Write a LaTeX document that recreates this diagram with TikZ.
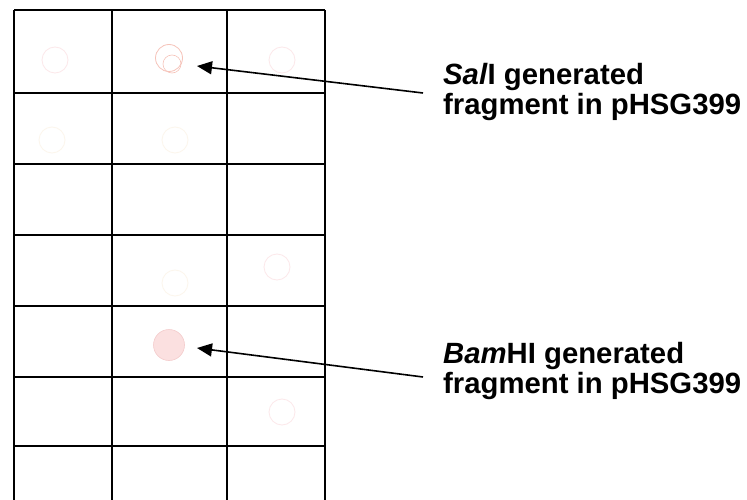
\documentclass[tikz,border=0pt]{standalone}
\usepackage{fontspec}
\setmainfont{Liberation Sans}
\usetikzlibrary{arrows.meta}
\definecolor{faintpink}{RGB}{252,232,234}
\definecolor{paleyellow}{RGB}{252,246,236}
\definecolor{salpink}{RGB}{246,195,185}
\definecolor{bamfill}{RGB}{251,224,224}
\definecolor{bamedge}{RGB}{244,204,204}
\tikzset{
  gridline/.style={line width=1.8pt, black},
  pointer/.style={line width=1.6pt, -{Triangle[length=15pt,width=13pt]}},
  label/.style={anchor=north west, inner sep=0pt, align=left,
    font=\bfseries\fontsize{29.3}{30}\selectfont},
  faint/.style={circle, draw=faintpink, line width=0.8pt, minimum size=26pt, inner sep=0pt},
  faintyel/.style={circle, draw=paleyellow, line width=0.8pt, minimum size=26pt, inner sep=0pt},
}
\begin{document}
\begin{tikzpicture}[x=1pt,y=-1pt]
\useasboundingbox (0,0) rectangle (747,500);
\fill[white] (0,0) rectangle (747,500);
% grid
\foreach \x in {14,112,227,325} \draw[gridline] (\x,10) -- (\x,500);
\foreach \y in {10,93,164,235,306,377,446} \draw[gridline] (14,\y) -- (325,\y);
% faint colonies
\node[faint] (c1) at (55,60) {};
\node[faint] (c3) at (282,60) {};
\node[faintyel] (c4) at (52,140) {};
\node[faintyel] (c5) at (175,140) {};
\node[faintyel] (c6) at (175,283) {};
\node[faint] (c7) at (277,267) {};
\node[faint] (c8) at (282,412) {};
% SalI colony
\node[circle, draw=salpink, line width=0.8pt, minimum size=27pt, inner sep=0pt] (sal) at (169,58) {};
\draw[salpink, line width=0.6pt] (172,64) circle (9pt);
% BamHI colony
\node[circle, fill=bamfill, draw=bamedge, line width=0.6pt, minimum size=31pt, inner sep=0pt] (bam) at (169,345) {};
% labels
\node[label] (lsal) at (443,63) {\textit{Sal}I generated\\fragment in pHSG399};
\node[label] (lbam) at (443,342) {\textit{Bam}HI generated\\fragment in pHSG399};
% arrow tips
\coordinate (tsal) at (197,66);
\coordinate (tbam) at (197,348);
\coordinate (ssal) at (423,93);
\coordinate (sbam) at (423,377);
\draw[pointer] (ssal) -- (tsal);
\draw[pointer] (sbam) -- (tbam);
\end{tikzpicture}
\end{document}
